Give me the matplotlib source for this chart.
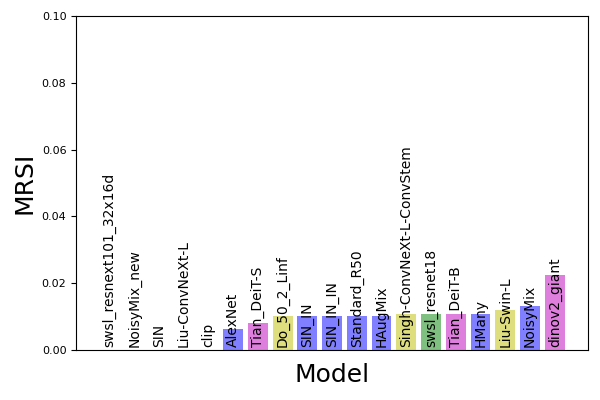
import matplotlib
matplotlib.use("Agg")
import matplotlib.pyplot as plt

models = ["swsl_resnext101_32x16d", "NoisyMix_new", "SIN", "Liu-ConvNeXt-L", "clip",
          "AlexNet", "Tian_DeiT-S", "Do_50_2_Linf", "SIN_IN", "SIN_IN_IN",
          "Standard_R50", "HAugMix", "Singh-ConvNeXt-L-ConvStem", "swsl_resnet18",
          "Tian_DeiT-B", "HMany", "Liu-Swin-L", "NoisyMix", "dinov2_giant"]
mrsi = [0.0, 0.0, 0.0, 0.0, 0.0,
        0.0063, 0.0082, 0.0102, 0.0101, 0.0101,
        0.0102, 0.0102, 0.0109, 0.0109,
        0.0109, 0.0109, 0.0121, 0.0133, 0.0225]
colors = ["b", "b", "b", "b", "b",
          "b", "m", "y", "b", "b",
          "b", "b", "y", "g",
          "m", "b", "y", "b", "m"]

fig, ax = plt.subplots(figsize=(6, 4), dpi=100)
x = list(range(len(models)))
ax.bar(x, mrsi, color=colors, alpha=0.5, width=0.8)
for xi, name in zip(x, models):
    ax.text(xi, 0.0008, name, rotation=90, ha="center", va="bottom", fontsize=10)
ax.set_ylim(0, 0.10)
ax.set_xticks([])
ax.tick_params(axis="y", labelsize=8)
ax.set_xlabel("Model", fontsize=18, labelpad=9)
ax.set_ylabel("MRSI", fontsize=18)
fig.subplots_adjust(left=0.127, right=0.98, bottom=0.125, top=0.96)
fig.savefig("out.png", dpi=100)
